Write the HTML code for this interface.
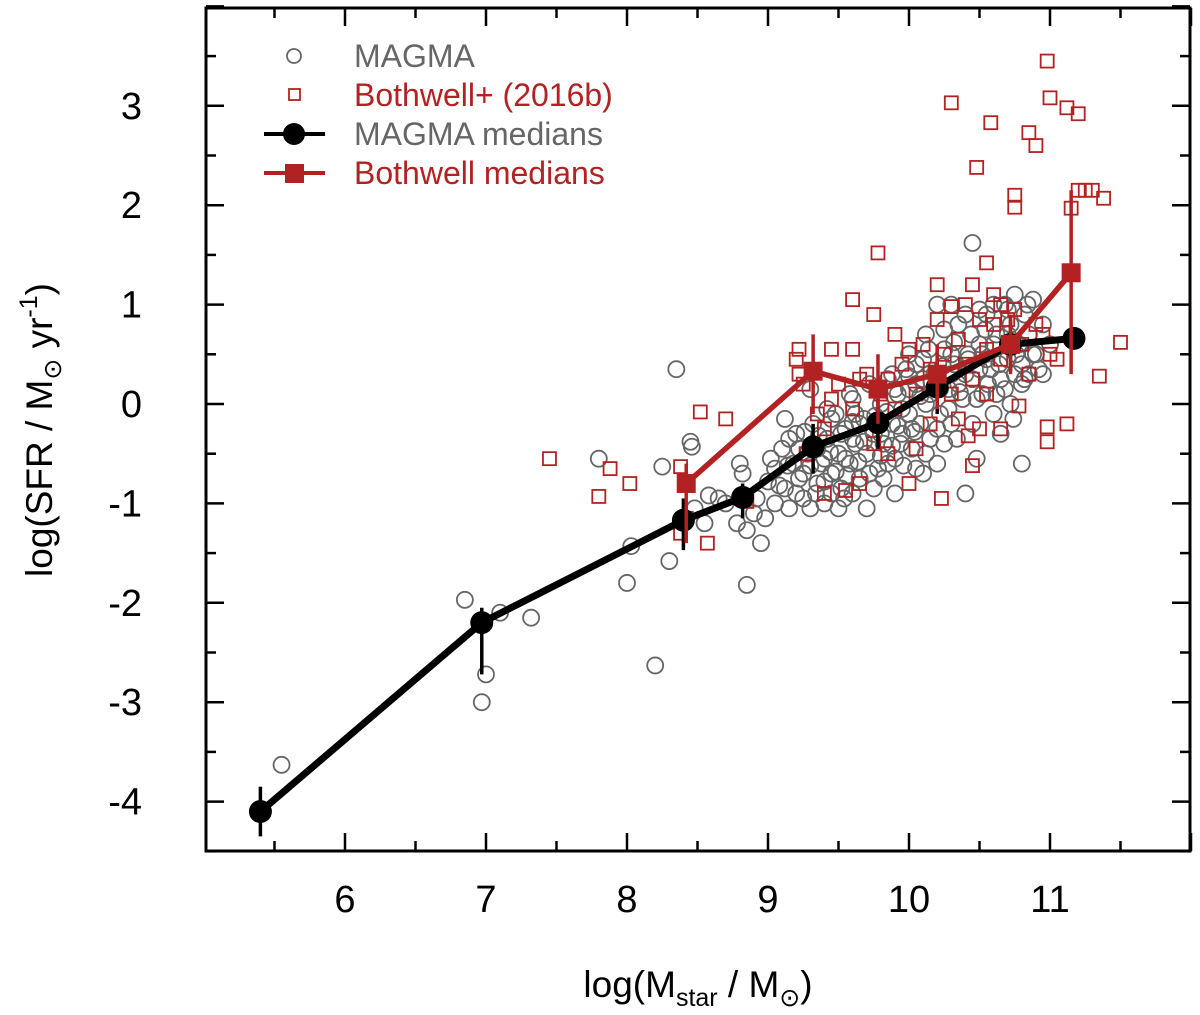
<!DOCTYPE html>
<html><head><meta charset="utf-8"><style>
html,body{margin:0;padding:0;background:#fff;}
svg{display:block;font-family:"Liberation Sans",sans-serif;}
</style></head><body>
<svg id="chart" width="1200" height="1015" viewBox="0 0 1200 1015" xmlns="http://www.w3.org/2000/svg">
<g id="ticks"></g>
<g id="pts"></g>
<g id="meds"></g>
<rect x="206" y="8" width="984" height="843" fill="none" stroke="#000" stroke-width="3"/>
<g id="labels" font-size="38" fill="#000"></g>
<text x="698" y="997" font-size="37" text-anchor="middle">log(M<tspan font-size="25" dy="9">star</tspan><tspan dy="-9"> / M</tspan><tspan font-size="25" dy="9">⊙</tspan><tspan dy="-9">)</tspan></text>
<text transform="translate(52,430) rotate(-90)" font-size="37" text-anchor="middle">log(SFR / M<tspan font-size="25" dy="9">⊙</tspan><tspan dy="-9"> yr</tspan><tspan font-size="25" dy="-15">-1</tspan><tspan dy="15">)</tspan></text>
<g font-size="32">
<circle cx="294" cy="56" r="7" fill="none" stroke="#666" stroke-width="1.8"/>
<text x="354" y="67" fill="#666">MAGMA</text>
<rect x="289" y="89" width="11" height="11" fill="none" stroke="#b22222" stroke-width="1.8"/>
<text x="354" y="106" fill="#b22222">Bothwell+ (2016b)</text>
<line x1="264" y1="134" x2="325" y2="134" stroke="#000" stroke-width="4"/>
<circle cx="294" cy="134" r="11" fill="#000"/>
<text x="354" y="145" fill="#666">MAGMA medians</text>
<line x1="264" y1="173" x2="325" y2="173" stroke="#b22222" stroke-width="4"/>
<rect x="285" y="164" width="19" height="19" fill="#b22222"/>
<text x="354" y="184" fill="#b22222">Bothwell medians</text>
</g>
</svg>
<script>
const xTicks=[6,7,8,9,10,11];
const yTicks=[-4,-3,-2,-1,0,1,2,3];
const magmaPts=[[5.55,-3.63],[6.85,-1.97],[6.97,-3.0],[7.0,-2.72],[7.1,-2.1],[7.32,-2.15],[8.2,-2.63],[8.0,-1.8],[8.03,-1.43],[7.8,-0.55],[8.25,-0.63],[8.3,-1.58],[8.35,0.35],[8.45,-0.38],[8.46,-0.43],[8.48,-1.05],[8.55,-1.2],[8.58,-0.92],[8.65,-0.95],[8.7,-1.0],[8.85,-1.82],[8.8,-0.6],[8.78,-1.2],[8.85,-1.27],[8.9,-1.1],[8.95,-1.4],[8.82,-0.7],[8.92,-0.95],[8.98,-1.15],[9.0,-0.78],[9.05,-1.0],[9.1,-0.45],[9.12,-0.85],[9.15,-1.05],[9.18,-0.6],[9.2,-0.3],[9.22,-0.75],[9.25,-0.95],[9.28,-0.5],[9.3,0.15],[9.32,-0.2],[9.35,-0.8],[9.38,-0.6],[9.4,-1.0],[9.42,-0.35],[9.45,-0.7],[9.48,-0.1],[9.5,-0.5],[9.52,-0.85],[9.55,-0.25],[9.58,-0.6],[9.6,0.05],[9.62,-0.4],[9.65,-0.75],[9.68,-0.15],[9.7,-0.5],[9.72,0.2],[9.75,-0.3],[9.78,-0.65],[9.8,0.0],[9.82,-0.4],[9.85,0.25],[9.88,-0.2],[9.9,-0.55],[9.92,0.1],[9.95,-0.3],[9.98,0.35],[10.0,-0.1],[10.02,-0.45],[10.05,0.2],[10.08,-0.2],[10.1,0.45],[10.12,0.0],[10.15,-0.35],[10.18,0.3],[10.2,1.0],[10.22,-0.1],[10.25,0.55],[10.28,0.15],[10.3,-0.2],[10.32,0.4],[10.35,0.8],[10.38,0.05],[10.4,-0.9],[10.42,0.5],[10.45,1.62],[10.45,0.25],[10.48,-0.55],[10.5,0.6],[10.52,0.1],[10.55,0.9],[10.58,0.35],[10.6,-0.1],[10.62,0.7],[10.65,0.25],[10.68,1.0],[10.7,0.45],[10.72,0.0],[10.75,1.1],[10.78,0.6],[10.8,-0.6],[10.82,0.9],[10.85,0.3],[10.88,1.05],[10.9,0.5],[10.95,0.8],[9.05,-0.65],[9.15,-0.35],[9.25,-0.7],[9.35,-0.45],[9.45,-0.9],[9.55,-0.55],[9.65,-0.2],[9.75,-0.85],[9.85,-0.6],[9.95,-0.05],[10.05,-0.65],[10.15,0.1],[10.25,-0.4],[10.35,0.2],[10.45,-0.2],[10.55,0.45],[10.65,-0.3],[10.75,0.3],[9.6,-0.9],[9.7,-1.05],[9.5,-1.05],[9.3,-1.05],[9.45,-0.15],[9.58,0.1],[9.88,0.3],[10.0,0.5],[10.12,0.7],[10.3,1.0],[10.4,0.9],[10.6,1.0],[10.7,0.7],[10.85,0.7],[11.0,0.6],[9.12,-0.15],[9.9,-0.9],[10.1,-0.7],[10.2,-0.6],[9.4,-0.55],[9.6,-0.35],[9.8,-0.3],[10.0,0.15],[10.3,0.3],[10.5,0.35],[10.8,0.4],[10.95,0.3],
[9.02,-0.55],[9.08,-0.82],[9.14,-0.62],[9.2,-0.9],[9.26,-0.28],[9.3,-0.62],[9.36,-0.32],[9.4,-0.78],[9.44,-0.48],[9.48,-0.68],[9.52,-0.3],[9.56,-0.72],[9.6,-0.18],[9.64,-0.58],[9.68,-0.38],[9.72,-0.7],[9.76,-0.12],[9.8,-0.52],[9.84,-0.08],[9.88,-0.42],[9.92,-0.22],[9.96,-0.62],[10.0,0.28],[10.04,-0.28],[10.08,0.08],[10.12,-0.5],[10.16,0.22],[10.2,-0.25],[10.24,0.38],[10.28,-0.05],[10.32,0.62],[10.36,0.12],[10.4,0.3],[10.44,0.7],[10.48,0.05],[10.52,0.5],[10.56,0.2],[10.6,0.6],[10.64,0.4],[10.68,0.15],[10.72,0.8],[10.76,0.5],[10.8,0.2],[10.84,1.0],[10.88,0.5],[10.92,0.35],[9.34,-0.9],[9.54,-0.95],[9.74,-0.25],[9.94,-0.4],[10.14,0.55],[10.34,-0.35],[10.54,0.75],[10.74,-0.15],[9.22,-0.45],[9.42,-0.05],[9.62,-0.1],[9.82,-0.75],[10.02,-0.25],[10.22,0.15],[10.42,0.45],[10.62,0.1],[10.82,0.25],[9.9,0.15],[10.1,0.25],[10.3,0.5],[10.5,0.95],[10.7,0.95],[10.25,0.75],[10.05,0.4]];
const bothPts=[[7.45,-0.55],[7.8,-0.93],[7.88,-0.65],[8.02,-0.8],[8.38,-0.63],[8.38,-1.3],[8.42,-1.15],[8.52,-0.08],[8.57,-1.4],[8.7,-0.15],[8.85,-0.98],[9.22,0.55],[9.2,0.45],[9.6,1.05],[9.75,0.9],[9.78,1.52],[10.3,3.03],[10.48,2.38],[10.58,2.83],[10.85,2.73],[10.9,2.6],[10.98,3.45],[11.0,3.08],[11.12,2.98],[11.2,2.92],[10.75,2.1],[10.75,1.98],[11.2,2.15],[11.25,2.15],[11.3,2.15],[11.38,2.07],[11.15,1.97],[11.5,0.62],[11.35,0.28],[11.12,-0.2],[10.98,-0.38],[10.98,-0.23],[10.65,-0.25],[10.78,-0.02],[10.5,-0.25],[10.45,-0.62],[10.42,-0.32],[10.23,-0.95],[10.0,-0.8],[9.85,-0.5],[9.55,-0.87],[9.4,-0.9],[9.27,-0.5],[9.4,-0.25],[9.65,-0.8],[10.55,1.42],[10.45,1.2],[10.2,1.2],[10.6,1.1],[10.75,0.95],[10.95,0.7],[11.0,0.5],[10.3,0.98],[10.2,0.85],[9.9,0.7],[10.0,0.55],[9.22,0.3],[9.45,0.55],[9.5,0.2],[9.6,0.55],[9.7,0.3],[9.8,0.1],[9.85,0.25],[9.9,-0.05],[9.95,0.4],[10.05,0.1],[10.1,0.6],[10.15,0.35],[10.25,0.5],[10.3,0.1],[10.35,0.65],[10.4,0.4],[10.5,0.85],[10.55,0.55],[10.6,0.8],[10.65,0.45],[10.7,0.85],[10.8,0.6],[10.85,0.3],[10.9,0.8],[11.05,0.45],[9.35,-0.1],[9.45,0.05],[9.6,-0.05],[9.75,-0.4],[10.05,-0.45],[10.15,-0.2],[10.35,-0.15],[10.55,0.1],[9.25,0.2],[9.65,0.25],[10.4,1.0],[10.65,1.0],[10.45,0.25]];
const magmaMedX=[5.4,6.97,8.4,8.82,9.32,9.78,10.2,10.72,11.17];
const magmaMedY=[-4.1,-2.2,-1.17,-0.94,-0.43,-0.19,0.17,0.6,0.66];
const magmaErrLo=[-4.35,-2.72,-1.47,-1.15,-0.7,-0.45,-0.1,0.32,0.66];
const magmaErrHi=[-3.85,-2.05,-0.95,-0.8,-0.2,0.05,0.5,0.85,0.66];
const bothMedX=[8.42,9.32,9.78,10.2,10.72,11.15];
const bothMedY=[-0.8,0.33,0.15,0.3,0.6,1.32];
const bothErrLo=[-1.4,-0.1,-0.2,-0.05,0.3,0.3];
const bothErrHi=[-0.6,0.7,0.5,0.6,0.9,2.15];
const NS="http://www.w3.org/2000/svg";
const sx=v=>345+(v-6)*141;
const sy=v=>404-v*99.4;
function mk(tag,attrs,parent){const e=document.createElementNS(NS,tag);for(const k in attrs)e.setAttribute(k,attrs[k]);parent.appendChild(e);return e;}
const T=document.getElementById('ticks'),L=document.getElementById('labels'),P=document.getElementById('pts'),M=document.getElementById('meds');
for(let v=5.5;v<=12;v+=0.5){const maj=Number.isInteger(v);const len=maj?18:10;const x=sx(v);
 const a=mk('line',{x1:x,y1:851,x2:x,y2:851-len,stroke:'#000','stroke-width':2.5},T);
 const b=mk('line',{x1:x,y1:8,x2:x,y2:8+len,stroke:'#000','stroke-width':2.5},T);}
for(let v=-4.5;v<=4;v+=0.5){const maj=Number.isInteger(v);const len=maj?18:10;const y=sy(v);
 const a=mk('line',{x1:206,y1:y,x2:206+len,y2:y,stroke:'#000','stroke-width':2.5},T);
 const b=mk('line',{x1:1190,y1:y,x2:1190-len,y2:y,stroke:'#000','stroke-width':2.5},T);}
xTicks.forEach(v=>{const t=mk('text',{x:sx(v),y:912,'text-anchor':'middle'},L);t.textContent=v;});
yTicks.forEach(v=>{const t=mk('text',{x:142,y:sy(v)+13,'text-anchor':'end'},L);t.textContent=v;});
magmaPts.forEach(p=>{const c=mk('circle',{cx:sx(p[0]),cy:sy(p[1]),r:8,fill:'none',stroke:'#666','stroke-width':1.8},P);});
bothPts.forEach(p=>{const r=mk('rect',{x:sx(p[0])-6.5,y:sy(p[1])-6.5,width:13,height:13,fill:'none',stroke:'#b22222','stroke-width':1.8},P);});
function series(xs,ys,lo,hi,col,w,kind,name){
 xs.forEach((x,i)=>{const e=mk('line',{x1:sx(x),x2:sx(x),y1:sy(lo[i]),y2:sy(hi[i]),stroke:col,'stroke-width':3.5},M);});
 const pl=mk('polyline',{points:xs.map((x,i)=>sx(x)+','+sy(ys[i])).join(' '),fill:'none',stroke:col,'stroke-width':w,'stroke-linejoin':'round'},M);
 xs.forEach((x,i)=>{let e;if(kind==='c')e=mk('circle',{cx:sx(x),cy:sy(ys[i]),r:11.5,fill:col},M);else e=mk('rect',{x:sx(x)-9.5,y:sy(ys[i])-9.5,width:19,height:19,fill:col},M);});
}
series(magmaMedX,magmaMedY,magmaErrLo,magmaErrHi,'#000',7,'c','magma-median');
series(bothMedX,bothMedY,bothErrLo,bothErrHi,'#b22222',5.5,'s','bothwell-median');
</script>
</body></html>
